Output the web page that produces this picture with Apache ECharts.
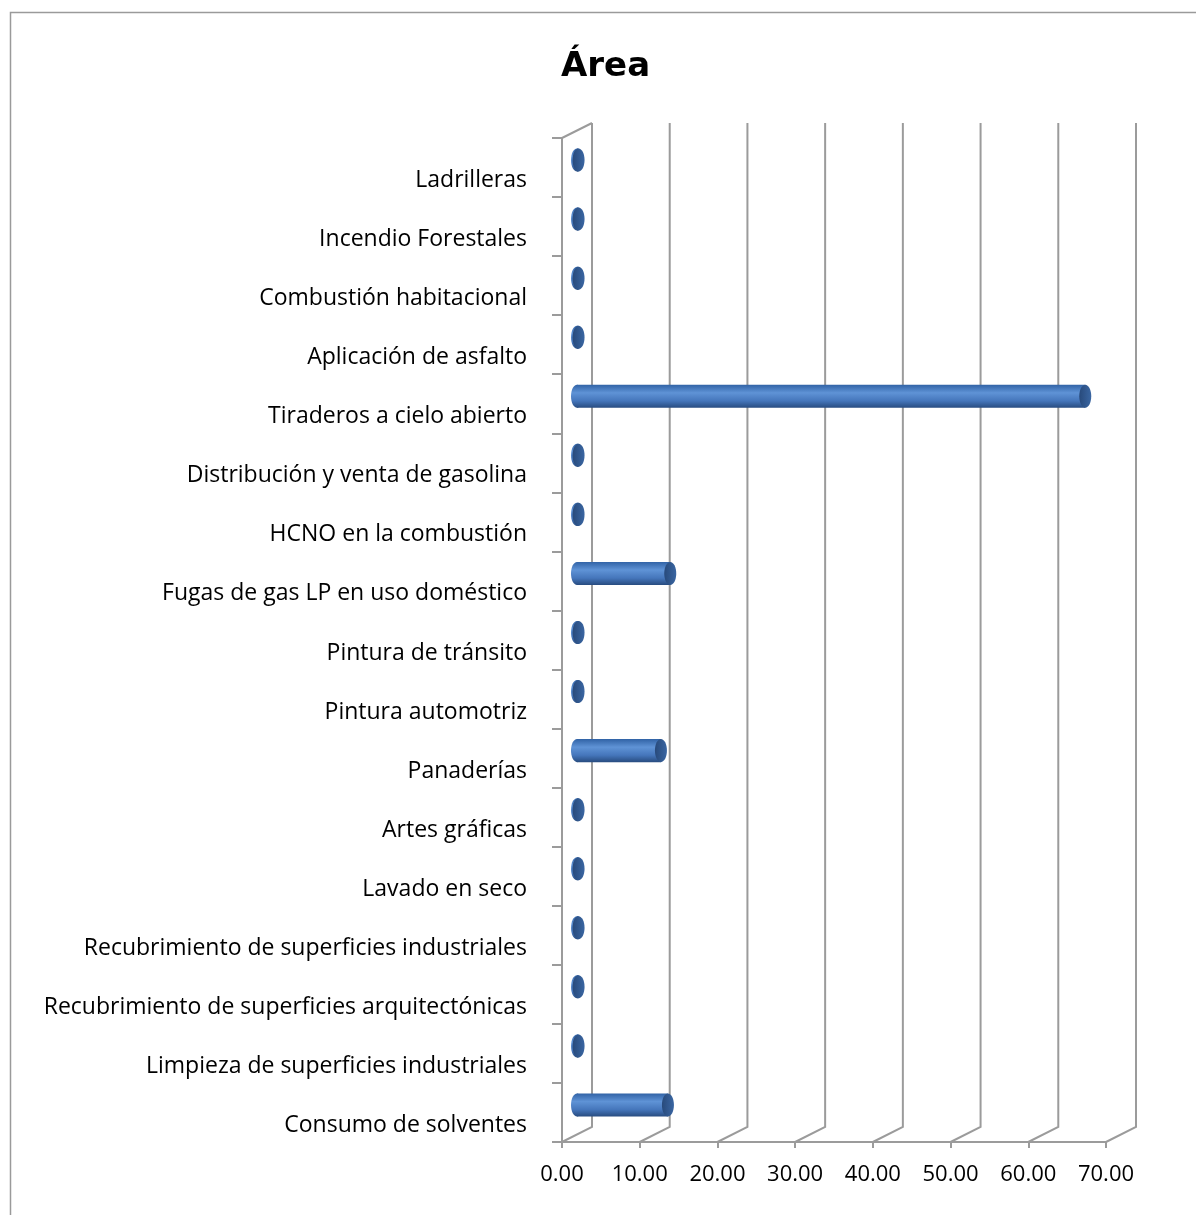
<!DOCTYPE html>
<html>
<head>
<meta charset="utf-8">
<script src="https://cdn.jsdelivr.net/npm/echarts@6/dist/echarts.min.js"></script>
<style>
  html, body { margin: 0; padding: 0; background: #fff; }
  #chart { width: 1196px; height: 1215px; }
</style>
</head>
<body>
<div id="chart"></div>
<script>
// categorias, de arriba hacia abajo
const categorias = [
  "Ladrilleras",
  "Incendio Forestales",
  "Combustión habitacional",
  "Aplicación de asfalto",
  "Tiraderos a cielo abierto",
  "Distribución y venta de gasolina",
  "HCNO en la combustión",
  "Fugas de gas LP en uso doméstico",
  "Pintura de tránsito",
  "Pintura automotriz",
  "Panaderías",
  "Artes gráficas",
  "Lavado en seco",
  "Recubrimiento de superficies industriales",
  "Recubrimiento de superficies arquitectónicas",
  "Limpieza de superficies industriales",
  "Consumo de solventes"
];
const valores = [0.2, 0.2, 0.2, 0.2, 65.4, 0.2, 0.2, 12.0, 0.2, 0.2, 10.8, 0.2, 0.2, 0.2, 0.2, 0.2, 11.7];
const ticksX = [0, 10, 20, 30, 40, 50, 60, 70];

// profundidad del efecto 3d (pared del fondo)
const DX = 30;
const DY = -15;

const chart = echarts.init(document.getElementById("chart"));

function renderPared(params, api) {
  const cs = params.coordSys;
  const x = api.coord([api.value(0), 0])[0];
  const top = cs.y;
  const bottom = cs.y + cs.height;
  const children = [
    {
      type: "polyline",
      shape: { points: [[x + DX, top + DY], [x + DX, bottom + DY], [x, bottom]] },
      style: { stroke: "#9b9b9b", lineWidth: 2, fill: null }
    }
  ];
  if (api.value(0) === 0) {
    // borde superior de la pared izquierda
    children.push({
      type: "line",
      shape: { x1: x, y1: top, x2: x + DX, y2: top + DY },
      style: { stroke: "#9b9b9b", lineWidth: 2 }
    });
  }
  return { type: "group", children: children };
}

function renderCilindro(params, api) {
  const ini = api.coord([0, api.value(1)]);
  const fin = api.coord([api.value(0), api.value(1)]);
  const h = api.size([0, 1])[1] * 0.39;
  const x0 = ini[0] + DX / 2;
  const x1 = fin[0] + DX / 2;
  const cy = ini[1] + DY / 2;
  const rx = 6;
  const cuerpo = new echarts.graphic.LinearGradient(0, 0, 0, 1, [
    { offset: 0, color: "#3163a6" },
    { offset: 0.35, color: "#5f93d6" },
    { offset: 0.7, color: "#4576bb" },
    { offset: 1, color: "#284c80" }
  ]);
  const tapa = new echarts.graphic.LinearGradient(0, 0, 1, 0, [
    { offset: 0, color: "#284a7b" },
    { offset: 1, color: "#3a66a2" }
  ]);
  return {
    type: "group",
    children: [
      {
        type: "ellipse",
        shape: { cx: x0, cy: cy, rx: rx, ry: h / 2 },
        style: { fill: cuerpo }
      },
      {
        type: "rect",
        shape: { x: x0, y: cy - h / 2, width: Math.max(x1 - x0, 0), height: h },
        style: { fill: cuerpo }
      },
      {
        type: "ellipse",
        shape: { cx: x1, cy: cy, rx: rx, ry: h / 2 },
        style: { fill: tapa }
      }
    ]
  };
}

const option = {
  backgroundColor: "#fff",
  animation: false,
  title: {
    text: "Área",
    left: 556,
    top: 45,
    textStyle: {
      fontFamily: "DejaVu Sans",
      fontWeight: "bold",
      fontSize: 34,
      color: "#000"
    }
  },
  graphic: [
    {
      type: "rect",
      left: 8,
      top: 10,
      shape: { width: 1400, height: 1400 },
      style: { fill: null, stroke: "#9a9a9a", lineWidth: 1.5 },
      silent: true
    }
  ],
  grid: {
    left: 562,
    top: 138,
    width: 544,
    height: 1004
  },
  xAxis: {
    type: "value",
    min: 0,
    max: 70,
    interval: 10,
    splitLine: { show: false },
    axisLine: { show: true, lineStyle: { color: "#9b9b9b", width: 2 } },
    axisTick: { show: true, length: 6, lineStyle: { color: "#9b9b9b", width: 2 } },
    axisLabel: {
      margin: 22,
      fontFamily: "Open Sans",
      fontSize: 22,
      color: "#000",
      formatter: function (v) { return v.toFixed(2); }
    }
  },
  yAxis: {
    type: "category",
    data: categorias,
    inverse: true,
    axisLine: { show: true, lineStyle: { color: "#9b9b9b", width: 2 } },
    axisTick: { show: true, length: 10, lineStyle: { color: "#9b9b9b", width: 2 } },
    axisLabel: {
      margin: 35,
      fontFamily: "Open Sans",
      fontSize: 23,
      color: "#000",
      verticalAlign: "top",
      lineHeight: 26
    }
  },
  series: [
    {
      type: "custom",
      name: "pared",
      renderItem: renderPared,
      data: ticksX.map(function (v) { return [v, 0]; }),
      encode: { x: 0, y: 1 },
      clip: false,
      silent: true,
      z: 1
    },
    {
      type: "custom",
      name: "Área",
      renderItem: renderCilindro,
      data: valores.map(function (v, i) { return [v, i]; }),
      encode: { x: 0, y: 1 },
      clip: false,
      z: 5
    }
  ]
};

chart.setOption(option);
</script>
</body>
</html>
